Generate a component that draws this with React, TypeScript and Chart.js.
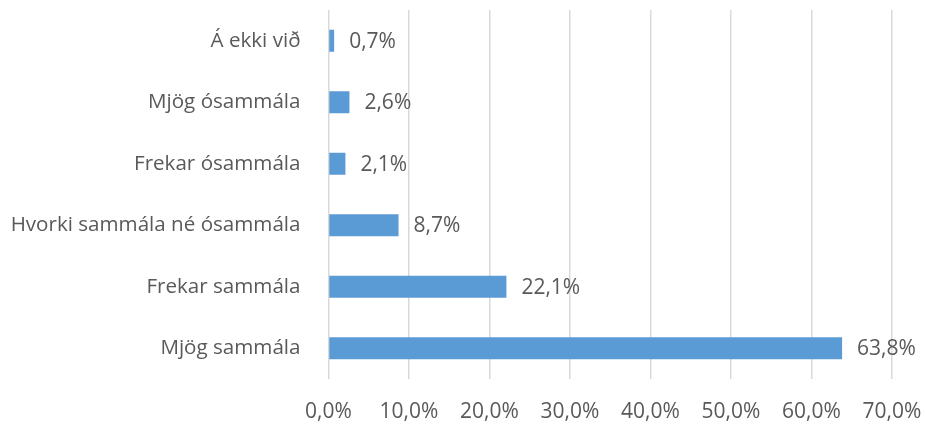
import React, { useEffect, useRef } from "react";
import { Chart, registerables } from "chart.js";

Chart.register(...registerables);

const categories = [
  "Á ekki við",
  "Mjög ósammála",
  "Frekar ósammála",
  "Hvorki sammála né ósammála",
  "Frekar sammála",
  "Mjög sammála",
];
const values = [0.7, 2.6, 2.1, 8.7, 22.1, 63.8];
const xTicks = [0, 10, 20, 30, 40, 50, 60, 70];

const FONT = "'Open Sans', sans-serif";
const TEXT = "#595959";
const SIZE = 21;

const fmt = (v: number) => v.toFixed(1).replace(".", ",") + "%";

const labelPlugin = {
  id: "barLabels",
  afterDatasetsDraw(chart: any) {
    const ctx = chart.ctx;
    const meta = chart.getDatasetMeta(0);
    ctx.save();
    ctx.font = `${SIZE}px ${FONT}`;
    ctx.fillStyle = TEXT;
    ctx.textAlign = "left";
    ctx.textBaseline = "middle";
    meta.data.forEach((el: any, i: number) => {
      ctx.fillText(fmt(values[i]), el.x + 15, el.y + 1);
    });
    ctx.restore();
  },
};

export default function App() {
  const ref = useRef<HTMLCanvasElement | null>(null);
  useEffect(() => {
    if (!ref.current) return;
    const chart = new Chart(ref.current, {
      type: "bar",
      data: {
        labels: categories,
        datasets: [
          {
            data: values,
            backgroundColor: "#5b9bd5",
            barPercentage: 0.36,
            categoryPercentage: 1,
          },
        ],
      },
      options: {
        indexAxis: "y",
        animation: false,
        responsive: false,
        maintainAspectRatio: false,
        layout: { padding: { top: 10, right: 33, bottom: 0, left: 0 } },
        plugins: { legend: { display: false }, tooltip: { enabled: false } },
        scales: {
          x: {
            min: 0,
            max: 70,
            afterBuildTicks: (axis: any) => {
              axis.ticks = xTicks.map((v) => ({ value: v }));
            },
            afterFit: (axis: any) => {
              axis.height = 45;
              axis.paddingLeft = 0;
              axis.paddingRight = 0;
            },
            grid: { color: "#d9d9d9", lineWidth: 1.5, drawTicks: false },
            border: { display: false },
            ticks: {
              padding: 20,
              color: TEXT,
              font: { family: FONT, size: SIZE },
              callback: (v: any) => fmt(Number(v)),
            },
          },
          y: {
            afterFit: (axis: any) => {
              axis.width = 328.5;
              axis.paddingTop = 0;
              axis.paddingBottom = 0;
            },
            grid: { display: false, drawTicks: false },
            border: { display: false },
            ticks: {
              padding: 28,
              color: TEXT,
              font: { family: FONT, size: 20.6 },
            },
          },
        },
      },
      plugins: [labelPlugin],
    });
    return () => chart.destroy();
  }, []);
  return (
    <div style={{ position: "fixed", left: 0, top: 0, width: 925, height: 424, background: "#fff" }}>
      <canvas ref={ref} width={925} height={424} style={{ width: 925, height: 424 }} />
    </div>
  );
}
